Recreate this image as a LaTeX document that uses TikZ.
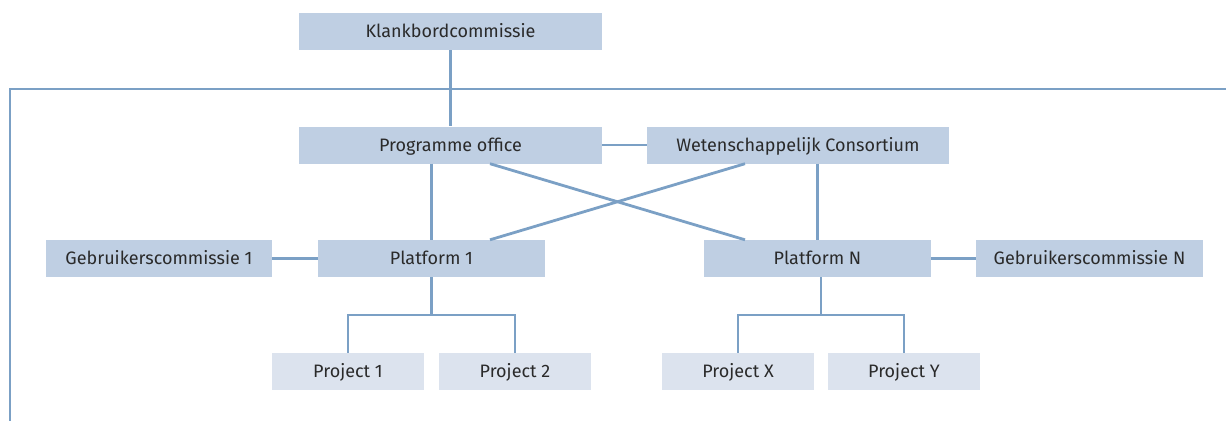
\documentclass[tikz,border=0pt]{standalone}
\usepackage{fontspec}
\setmainfont{Fira Sans}
\usepackage{xcolor}
\definecolor{box-blue}{HTML}{BFCFE3}
\definecolor{box-light}{HTML}{DCE3EE}
\definecolor{link-blue}{HTML}{7BA0C5}
\definecolor{ink}{HTML}{2A2A2A}
\usetikzlibrary{positioning}

\begin{document}
\begin{tikzpicture}[x=1pt, y=-1pt,
    every node/.style={font=\fontsize{18}{21}\selectfont, text=ink,
      text height=12.4pt, text depth=0pt},
    unit/.style={fill=box-blue, minimum height=37pt, inner sep=0},
    project/.style={fill=box-light, minimum width=152pt, minimum height=37pt, inner sep=0},
    link/.style={draw=link-blue, line width=2.8pt}]
    \useasboundingbox (0,0) rectangle (1226,421);
    % top level
    \node[unit, minimum width=303pt] (kbc) at (450.5,31.5) {Klankbordcommissie};
    \node[unit, minimum width=303pt] (po) at (450.5,145) {Programme office};
    \node[unit, minimum width=302pt] (wc) at (798,145) {Wetenschappelijk Consortium};
    % platforms
    \node[unit, minimum width=226pt] (gc1) at (159,258.5) {Gebruikerscommissie 1};
    \node[unit, minimum width=227pt] (pf1) at (431.5,258.5) {Platform 1};
    \node[unit, minimum width=227pt] (pfN) at (817.5,258.5) {Platform N};
    \node[unit, minimum width=227pt] (gcN) at (1089.5,258.5) {Gebruikerscommissie N};
    % projects
    \node[project] (p1) at (348,371.5) {Project 1};
    \node[project] (p2) at (515,371.5) {Project 2};
    \node[project] (pX) at (738,371.5) {Project X};
    \node[project] (pY) at (904,371.5) {Project Y};
    % frame line
    \coordinate (tr) at (1226,89);
    \coordinate (tl) at (10,89);
    \coordinate (bl) at (10,421);
    \draw[link] (tr) -- (tl) -- (bl);
    \draw[link] (kbc.south) -- (po.north);
    \draw[link] (po) -- (wc);
    \draw[link] (po.south -| pf1.north) -- (pf1.north);
    \draw[link] (wc.south -| pfN.north) -- (pfN.north);
    \draw[link] ([xshift=39.5pt]po.south) -- ([xshift=-72.5pt]pfN.north);
    \draw[link] ([xshift=-53pt]wc.south) -- ([xshift=58.5pt]pf1.north);
    \draw[link] (gc1) -- (pf1);
    \draw[link] (pfN) -- (gcN);
    % project trees
    \coordinate (j1) at (431.5,315);
    \coordinate (jN) at (821,315);
    \draw[link] (pf1.south) -- (j1);
    \draw[link] (p1.north) |- (j1) -| (p2.north);
    \draw[link] (pfN.south -| jN) -- (jN);
    \draw[link] (pX.north) |- (jN) -| (pY.north);
  \end{tikzpicture}
\end{document}
